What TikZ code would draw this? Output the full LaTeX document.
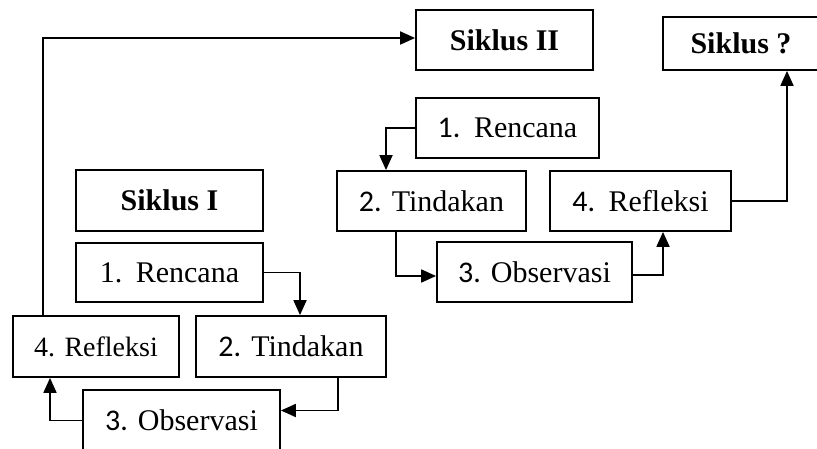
\documentclass[tikz,border=0pt]{standalone}
\usepackage{fontspec}
\setmainfont{Liberation Serif}
\newfontfamily\calib{Carlito}
\usetikzlibrary{arrows.meta}
\begin{document}
\begin{tikzpicture}[x=1pt,y=-1pt,
  box/.style={draw, line width=1.8pt, inner sep=0pt, font=\fontsize{30}{36}\selectfont},
  ttl/.style={box, font=\fontsize{30}{36}\selectfont\bfseries},
  arr/.style={line width=1.8pt, -{Triangle[length=15pt,width=13pt]}},
  ln/.style={line width=1.8pt}]
\clip (0,0) rectangle (817,449);
\fill[white] (0,0) rectangle (817,449);
% Siklus I
\node[ttl, minimum width=187pt, minimum height=61pt] (s1) at (169.5,200.5) {Siklus I};
\node[box, minimum width=187pt, minimum height=59pt] (r1) at (169.5,272.5) {1.\hspace{0.45em}Rencana\hspace{0.2em}};
\node[box, minimum width=166pt, minimum height=61pt] (f1) at (96,346.5) {\fontsize{28}{34}\selectfont 4. Refleksi};
\node[box, minimum width=190pt, minimum height=61pt] (t1) at (291,346.5) {{\calib 2.} Tindakan\hspace{0.35em}};
\node[box, minimum width=197pt, minimum height=61pt] (o1) at (181.5,420.5) {{\calib 3.} Observasi\hspace{0.2em}};
% Siklus II
\node[ttl, minimum width=177pt, minimum height=60pt] (s2) at (504.5,40) {Siklus II};
\node[box, minimum width=183pt, minimum height=60pt] (r2) at (507.5,128) {{\calib 1.}\hspace{0.45em}Rencana\hspace{0.2em}};
\node[box, minimum width=189pt, minimum height=60pt] (t2) at (431.5,201) {{\calib 2.} Tindakan\hspace{0.25em}};
\node[box, minimum width=181pt, minimum height=60pt] (f2) at (640.5,201) {{\calib 4.}\hspace{0.45em}Refleksi\hspace{0.2em}};
\node[box, minimum width=195pt, minimum height=60pt] (o2) at (534.5,272) {{\calib 3.} Observasi\hspace{0.25em}};
% Siklus ?
\node[ttl, minimum width=156pt, minimum height=53pt] (sq) at (741,43.5) {Siklus ?\hspace{0.5em}};
% connectors cycle I
\draw[arr] (r1.east) -| ([xshift=9pt]t1.north);
\draw[arr] ([xshift=47pt]t1.south) |- ([yshift=10pt]o1.east);
\draw[arr] (o1.west) -| ([xshift=-46pt]f1.south);
\draw[arr] ([xshift=-53pt]f1.north) |- ([yshift=2pt]s2.west);
% connectors cycle II
\draw[arr] (r2.west) -| ([xshift=-45.5pt]t2.north);
\draw[arr] ([xshift=-35.5pt]t2.south) |- ([yshift=-4pt]o2.west);
\draw[arr] ([yshift=-3pt]o2.east) -| ([xshift=22.5pt]f2.south);
\draw[arr] (f2.east) -| ([xshift=46pt]sq.south);
\end{tikzpicture}
\end{document}
